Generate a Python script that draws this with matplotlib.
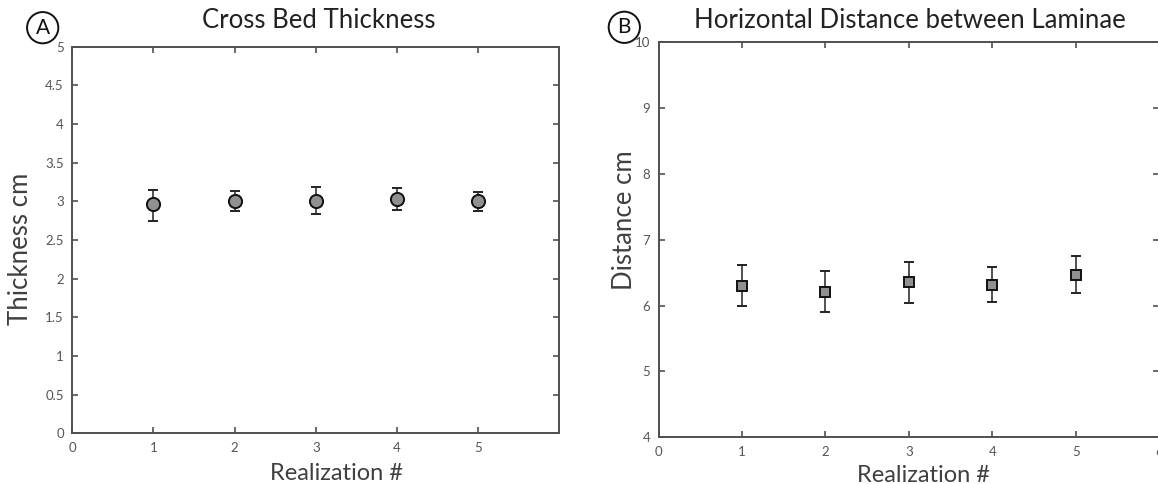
import matplotlib
matplotlib.use('Agg')
import matplotlib.pyplot as plt
import numpy as np

# Panel A: cross bed thickness (cm)
realization = [1, 2, 3, 4, 5]
thickness = [2.96, 3.01, 3.01, 3.03, 3.00]
thick_low = [2.75, 2.87, 2.83, 2.89, 2.87]
thick_high = [3.15, 3.13, 3.19, 3.17, 3.12]

# Panel B: horizontal distance between laminae (cm)
distance = [6.30, 6.21, 6.36, 6.31, 6.47]
dist_low = [5.99, 5.90, 6.04, 6.06, 6.19]
dist_high = [6.61, 6.52, 6.67, 6.58, 6.76]

font = 'Lato'
spine_col = '#505050'
tick_col = '#555555'
cap_col = '#4a1414'


def style_axes(ax):
    for s in ax.spines.values():
        s.set_color(spine_col)
        s.set_linewidth(1.4)
    ax.tick_params(direction='in', length=4, width=1.2, color=spine_col,
                   labelcolor=tick_col, labelsize=9.5, top=True, right=True)
    ax.tick_params(axis='x', pad=6)
    ax.tick_params(axis='y', pad=6)
    for lab in ax.get_xticklabels() + ax.get_yticklabels():
        lab.set_fontfamily(font)


def draw_points(ax, x, y, lo, hi, marker, ms):
    y = np.array(y)
    err = [y - np.array(lo), np.array(hi) - y]
    line, caps, bars = ax.errorbar(x, y, yerr=err, fmt=marker, ms=ms,
                                   mfc='#8f9191', mec='#111111', mew=1.4,
                                   ecolor='#222222', elinewidth=1.1,
                                   capsize=3.5, capthick=1.3)
    for c in caps:
        c.set_color(cap_col)


fig = plt.figure(figsize=(11.58, 4.84), dpi=100)

# Panel A
ax1 = fig.add_axes([0.0624, 0.1048, 0.4207, 0.7988])
draw_points(ax1, realization, thickness, thick_low, thick_high, 'o', 9.5)
ax1.set_xlim(0, 6)
ax1.set_ylim(0, 5)
ax1.set_xticks([0, 1, 2, 3, 4, 5])
ax1.set_yticks(np.arange(0, 5.01, 0.5))
ax1.set_yticklabels(['0', '0.5', '1', '1.5', '2', '2.5', '3', '3.5', '4', '4.5', '5'])
style_axes(ax1)
ax1.set_ylabel('Thickness cm', fontsize=18.5, color='#404040', fontfamily=font)
ax1.yaxis.set_label_coords(-0.081, 0.477)
ax1.set_xlabel('Realization #', fontsize=17, color='#404040', fontfamily=font)
ax1.xaxis.set_label_coords(0.543, -0.078)

# Panel B
ax2 = fig.add_axes([0.5687, 0.0965, 0.4322, 0.8161])
draw_points(ax2, realization, distance, dist_low, dist_high, 's', 7)
ax2.set_xlim(0, 6)
ax2.set_ylim(4, 10)
ax2.set_xticks([0, 1, 2, 3, 4, 5, 6])
ax2.set_yticks([4, 5, 6, 7, 8, 9, 10])
style_axes(ax2)
ax2.set_ylabel('Distance cm', fontsize=18.5, color='#404040', fontfamily=font)
ax2.yaxis.set_label_coords(-0.043, 0.55)
ax2.set_xlabel('Realization #', fontsize=17, color='#404040', fontfamily=font)
ax2.xaxis.set_label_coords(0.53, -0.070)

# titles and panel letters
fig.text(319 / 1158, 1 - 20.5 / 484, 'Cross Bed Thickness', fontsize=18.5,
         fontfamily=font, color='#222222', ha='center', va='center')
fig.text(910 / 1158, 1 - 21 / 484, 'Horizontal Distance between Laminae', fontsize=18.5,
         fontfamily=font, color='#222222', ha='center', va='center')
for lx, ly, letter in [(42.7, 27.7, 'A'), (624.3, 27.3, 'B')]:
    fig.text(lx / 1158, 1 - ly / 484, letter, fontsize=15, fontfamily=font,
             color='#111111', ha='center', va='center',
             bbox=dict(boxstyle='circle,pad=0.27', fc='none', ec='#111111', lw=1.4))

fig.savefig('out.png', dpi=100)
